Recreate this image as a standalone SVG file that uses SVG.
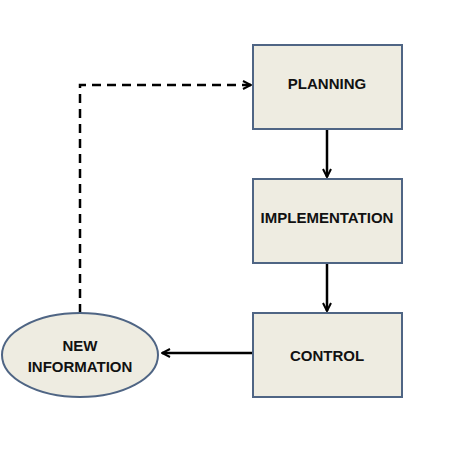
<svg xmlns="http://www.w3.org/2000/svg" width="474" height="474" viewBox="0 0 474 474">
<style>
.box{fill:#eeece1;stroke:#4f6584;stroke-width:2}
.lbl{font-family:"Liberation Sans",Arial,sans-serif;font-weight:bold;font-size:15px;fill:#111;text-anchor:middle}
.conn{fill:none;stroke:#000;stroke-width:2.5}
.dash{stroke-dasharray:9,6}
</style>
<defs>
<marker id="arr" viewBox="0 0 10 10" refX="9" refY="5" markerWidth="4" markerHeight="4" markerUnits="strokeWidth" orient="auto">
<path d="M1,1 L9,5 L1,9" fill="none" stroke="#000" stroke-width="2"/>
</marker>
</defs>
<rect width="474" height="474" fill="#fff"/>
<g id="connectors">
<line class="conn" x1="327" y1="129" x2="327" y2="177" marker-end="url(#arr)"/>
<line class="conn" x1="327" y1="263" x2="327" y2="311" marker-end="url(#arr)"/>
<line class="conn" x1="253" y1="353" x2="162" y2="353" marker-end="url(#arr)"/>
<path class="conn dash" d="M80,313 V85 H251" marker-end="url(#arr)"/>
</g>
<g id="planning">
<rect class="box" x="253" y="45" width="149" height="84"/>
<text class="lbl" x="327" y="89">PLANNING</text>
</g>
<g id="implementation">
<rect class="box" x="253" y="179" width="149" height="84"/>
<text class="lbl" x="327" y="223">IMPLEMENTATION</text>
</g>
<g id="control">
<rect class="box" x="253" y="313" width="149" height="84"/>
<text class="lbl" x="327" y="361">CONTROL</text>
</g>
<g id="new-information">
<ellipse class="box" cx="80" cy="355" rx="78" ry="42"/>
<text class="lbl" x="80" y="351">NEW</text>
<text class="lbl" x="80" y="372">INFORMATION</text>
</g>
</svg>
